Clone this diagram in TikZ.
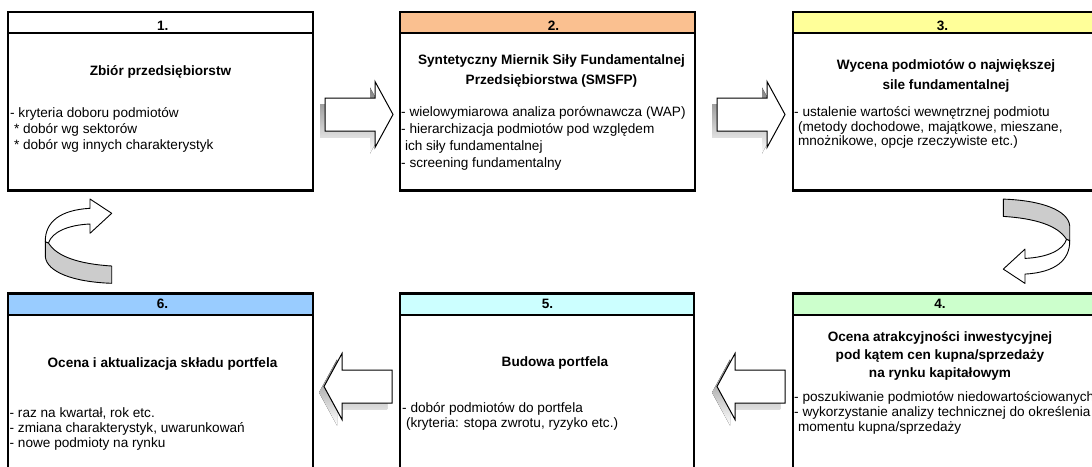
\documentclass[tikz,border=0pt]{standalone}
\usepackage{fontspec}
\setmainfont{Liberation Sans}
\usetikzlibrary{calc}

\definecolor{hdrtwo}{HTML}{FAC090}
\definecolor{hdrthree}{HTML}{FFFF99}
\definecolor{hdrfour}{HTML}{CCFFCC}
\definecolor{hdrfive}{HTML}{CCFFFF}
\definecolor{hdrsix}{HTML}{99CCFF}
\definecolor{ribbon}{HTML}{CCCCCC}
\definecolor{shade}{HTML}{CACACA}

% fat block arrow: #1 = tail coordinate, #2 = 1 (to the right) or -1 (to the left)
\newcommand{\fatarrow}[2]{%
  \begin{scope}[shift={(#1)}]
    \fill[shade, shift={(-5,6)}, xscale=#2]
      (0,-16.5) -- (50,-16.5) -- (50,-33) -- (68,0) -- (50,33) -- (50,16.5) -- (0,16.5) -- cycle;
    \draw[blockarrow, xscale=#2]
      (0,-16.5) -- (50,-16.5) -- (50,-33) -- (68,0) -- (50,33) -- (50,16.5) -- (0,16.5) -- cycle;
  \end{scope}}

% twisted U-turn ribbon arrow, drawn in its own frame
\newcommand{\uturn}{%
  \draw[ribbonline, fill=ribbon]
    (45.3,241.7) -- (45.3,256.7) .. controls (47,272) and (73,282) .. (111.7,283.3)
    -- (111.7,266) .. controls (80,264) and (57,257) .. (48.5,243) -- cycle;
  \draw[ribbonline, fill=white]
    (90,208.3) -- (90,199) -- (111.7,213.3) -- (90,233.3) -- (90,224)
    .. controls (68,225) and (52,232) .. (48.5,243) -- (45.3,241.7)
    .. controls (45,222) and (60,210) .. (90,208.3) -- cycle;}

\begin{document}
\begin{tikzpicture}[x=1pt,y=-1pt,
  box/.style={draw, line width=2.5pt, fill=white, rectangle, outer sep=0pt, inner sep=0pt},
  hdr/.style={draw, line width=2.5pt, rectangle, outer sep=0pt, inner sep=0pt, anchor=north},
  numtext/.style={font=\bfseries\fontsize{13.6}{16}\selectfont, inner sep=0pt, anchor=base},
  titletext/.style={font=\bfseries\fontsize{13.6}{#1}\selectfont, align=center, inner sep=0pt, anchor=base},
  titletext/.default=20,
  bodytext/.style={font=\fontsize{13.6}{#1}\selectfont, align=left, inner sep=0pt, anchor=base west},
  blockarrow/.style={draw=black, fill=white, line width=1pt, line join=miter},
  ribbonline/.style={draw=black, line width=0.9pt, line join=round}
]
\useasboundingbox (0,0) rectangle (1092,466);
\fill[white] (0,0) rectangle (1092,466);
\clip (0,0) rectangle (1092,466);

% ---- upper row ----
\node[box, minimum width=305, minimum height=178.5] (b1) at (160.5,101.25) {};
\node[hdr, fill=white, minimum width=305, minimum height=21] (h1) at (b1.north) {};
\node[box, minimum width=295, minimum height=178.5] (b2) at (547.5,101.25) {};
\node[hdr, fill=hdrtwo, minimum width=295, minimum height=21] (h2) at (b2.north) {};
\node[box, minimum width=305, minimum height=178.5] (b3) at (945.5,101.25) {};
\node[hdr, fill=hdrthree, minimum width=305, minimum height=21] (h3) at (b3.north) {};

% ---- lower row ----
\node[box, minimum width=303, minimum height=186.7] (b4) at (944.5,386.65) {};
\node[hdr, fill=hdrfour, minimum width=303, minimum height=21.7] (h4) at (b4.north) {};
\node[box, minimum width=294, minimum height=186.7] (b5) at (547,386.65) {};
\node[hdr, fill=hdrfive, minimum width=294, minimum height=21.7] (h5) at (b5.north) {};
\node[box, minimum width=305, minimum height=186.7] (b6) at (160.5,386.65) {};
\node[hdr, fill=hdrsix, minimum width=305, minimum height=21.7] (h6) at (b6.north) {};

% ---- step numbers ----
\node[numtext] (n1) at (162.7,30.2) {1.};
\node[numtext] (n2) at (553.5,30.2) {2.};
\node[numtext] (n3) at (942.5,30.2) {3.};
\node[numtext] (n4) at (940,308.5) {4.};
\node[numtext] (n5) at (547.5,308.5) {5.};
\node[numtext] (n6) at (162.5,308.5) {6.};

% ---- titles (placed by the baseline of their last line) ----
\node[titletext] (t1) at (160.5,75.5) {Zbiór przedsiębiorstw};
\node[titletext] (t2) at (551.5,84.5) {Syntetyczny Miernik Siły Fundamentalnej\\Przedsiębiorstwa (SMSFP)};
\node[titletext] (t3) at (946,89.5) {Wycena podmiotów o największej\\sile fundamentalnej};
\node[titletext=18] (t4) at (940,377.5) {Ocena atrakcyjności inwestycyjnej\\pod kątem cen kupna/sprzedaży\\na rynku kapitałowym};
\node[titletext] (t5) at (555,366.5) {Budowa portfela};
\node[titletext] (t6) at (162.5,367.5) {Ocena i aktualizacja składu portfela};

% ---- descriptions (placed by the baseline of their last line) ----
\node[bodytext=16] (d1) at (10,149) {- kryteria doboru podmiotów\\\hspace*{3.8pt}* dobór wg sektorów\\\hspace*{3.8pt}* dobór wg innych charakterystyk};
\node[bodytext=17] (d2) at (401,167.5) {- wielowymiarowa analiza porównawcza (WAP)\\- hierarchizacja podmiotów pod względem\\\hspace*{3.8pt}ich siły fundamentalnej\\- screening fundamentalny};
\node[bodytext=14.7] (d3) at (794,145.9) {- ustalenie wartości wewnętrznej podmiotu\\\hspace*{3.8pt}(metody dochodowe, majątkowe, mieszane,\\\hspace*{3.8pt}mnożnikowe, opcje rzeczywiste etc.)};
\node[bodytext=15] (d4) at (794,431.5) {- poszukiwanie podmiotów niedowartościowanych\\- wykorzystanie analizy technicznej do określenia\\\hspace*{3.8pt}momentu kupna/sprzedaży};
\node[bodytext=15] (d5) at (402,427.5) {- dobór podmiotów do portfela\\\hspace*{3.8pt}(kryteria: stopa zwrotu, ryzyko etc.)};
\node[bodytext=15] (d6) at (9.5,447.5) {- raz na kwartał, rok etc.\\- zmiana charakterystyk, uwarunkowań\\- nowe podmioty na rynku};

% ---- flow arrows between the steps ----
\coordinate (a12) at (325,114.5);
\coordinate (a23) at (717,114.5);
\coordinate (a45) at (785,386.5);
\coordinate (a56) at (392,386.5);
\fatarrow{a12}{1}
\fatarrow{a23}{1}
\fatarrow{a45}{-1}
\fatarrow{a56}{-1}

% ---- U-turn arrows between the rows ----
\uturn
\begin{scope}[shift={(1115,482.4)}, rotate=180]
  \uturn
\end{scope}
\end{tikzpicture}
\end{document}
